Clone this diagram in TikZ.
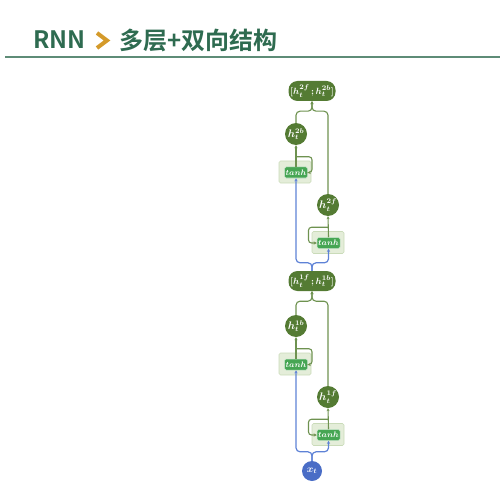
\documentclass[tikz,border=0pt]{standalone}
\usepackage{fontspec}
\usepackage{amsmath}
\usepackage{bm}
\newfontfamily\cjk{Noto Sans CJK SC}[BoldFont={Noto Sans CJK SC Bold}]
\usetikzlibrary{arrows.meta}
\definecolor{titlegreen}{HTML}{2E6B50}
\definecolor{chevgold}{HTML}{D49A2A}
\definecolor{rulegreen}{HTML}{5E8C77}
\definecolor{dkgreen}{HTML}{547B33}
\definecolor{tanhgreen}{HTML}{46A653}
\definecolor{bgfill}{HTML}{E4EDD9}
\definecolor{bgdraw}{HTML}{CADBB9}
\definecolor{gline}{HTML}{6E9250}
\definecolor{bline}{HTML}{5E82D6}
\definecolor{xblue}{HTML}{4A6DC6}
\tikzset{
  hcirc/.style={circle, fill=dkgreen, minimum size=22pt, inner sep=0pt, text=white, font=\fontsize{10.5}{12}\selectfont},
  catnode/.style={rectangle, rounded corners=9pt, fill=dkgreen, minimum width=47pt, minimum height=20pt, inner sep=0pt, text=white, font=\fontsize{9.5}{11}\selectfont},
  bgbox/.style={rectangle, rounded corners=1.5pt, fill=bgfill, draw=bgdraw, line width=0.6pt, minimum width=32pt, minimum height=22pt, inner sep=0pt},
  tanhbox/.style={rectangle, rounded corners=1.5pt, fill=tanhgreen, draw=white!70!tanhgreen, line width=0.5pt, minimum width=23pt, minimum height=11pt, inner sep=0pt, text=white, font=\fontsize{8.5}{9}\selectfont},
  xcirc/.style={circle, fill=xblue, minimum size=20pt, inner sep=0pt, text=white, font=\fontsize{10}{11}\selectfont},
  garrow/.style={draw=gline, line width=1.1pt, -{Stealth[length=3pt,width=3pt]}},
  barrow/.style={draw=bline, line width=1.2pt, -{Stealth[length=3pt,width=3pt]}},
}
\begin{document}
\begin{tikzpicture}[x=1pt,y=-1pt]
\useasboundingbox (0,0) rectangle (500,489);
% title
\node[anchor=west, inner sep=0pt, text=titlegreen, font=\cjk\bfseries\fontsize{24}{28}\selectfont] (rnn) at (33,40) {RNN};
\draw[chevgold, line width=4pt, miter limit=10] (97,33) -- (107,40.5) -- (97,48);
\node[anchor=west, inner sep=0pt, text=titlegreen, font=\cjk\bfseries\fontsize{24}{28}\selectfont] (ttl) at (119,40) {多层+双向结构};
\draw[rulegreen, line width=2pt] (5,57) -- (500,57);

% layer 2
\node[catnode] (top) at (312,91) {$\bm{[h_t^{2f}\,;h_t^{2b}]}$};
\node[hcirc] (h2b) at (296,134) {$\bm{h_t^{2b}}$};
\node[bgbox] (bg2b) at (295,172) {};
\node[tanhbox] (t2b) at (296,172.5) {$\bm{tanh}$};
\node[hcirc] (h2f) at (328,205) {$\bm{h_t^{2f}}$};
\node[bgbox] (bg2f) at (328,242.5) {};
\node[tanhbox] (t2f) at (328.5,243) {$\bm{tanh}$};

% layer 1
\node[catnode] (mid) at (312,281) {$\bm{[h_t^{1f}\,;h_t^{1b}]}$};
\node[hcirc] (h1b) at (296,326) {$\bm{h_t^{1b}}$};
\node[bgbox] (bg1b) at (295,364) {};
\node[tanhbox] (t1b) at (296,364.5) {$\bm{tanh}$};
\node[hcirc] (h1f) at (328,397) {$\bm{h_t^{1f}}$};
\node[bgbox] (bg1f) at (328,434.5) {};
\node[tanhbox] (t1f) at (328.5,435) {$\bm{tanh}$};
\node[xcirc] (x) at (312,471) {$\bm{x_t}$};

% layer 2 green connectors
\draw[garrow] (t2b.north) -- (h2b.south);
\draw[garrow, rounded corners=3pt] ([yshift=10pt]t2b.north) -- ++(16,0) |- (t2b.east);
\draw[garrow] (t2f.north) -- (h2f.south);
\draw[garrow, rounded corners=3pt] ([yshift=10pt]t2f.north) -- ++(-20,0) |- (t2f.west);
\draw[garrow, rounded corners=4pt] (h2b.north) |- ([yshift=-10pt]top.south) -- (top.south);
\draw[garrow, rounded corners=4pt] (h2f.north) |- ([yshift=-10pt]top.south) -- (top.south);
% blue from mid to layer 2
\draw[barrow, rounded corners=4pt] (mid.north) -- ([yshift=8pt]mid.north) -| (t2b.south);
\draw[barrow, rounded corners=4pt] (mid.north) -- ([yshift=8pt]mid.north) -| (t2f.south);

% layer 1 green connectors
\draw[garrow] (t1b.north) -- (h1b.south);
\draw[garrow, rounded corners=3pt] ([yshift=10pt]t1b.north) -- ++(16,0) |- (t1b.east);
\draw[garrow] (t1f.north) -- (h1f.south);
\draw[garrow, rounded corners=3pt] ([yshift=10pt]t1f.north) -- ++(-20,0) |- (t1f.west);
\draw[garrow, rounded corners=4pt] (h1b.north) |- ([yshift=-10pt]mid.south) -- (mid.south);
\draw[garrow, rounded corners=4pt] (h1f.north) |- ([yshift=-10pt]mid.south) -- (mid.south);
% blue from x to layer 1
\draw[barrow, rounded corners=4pt] (x.north) -- ([yshift=9pt]x.north) -| (t1b.south);
\draw[barrow, rounded corners=4pt] (x.north) -- ([yshift=9pt]x.north) -| (t1f.south);
\end{tikzpicture}
\end{document}
